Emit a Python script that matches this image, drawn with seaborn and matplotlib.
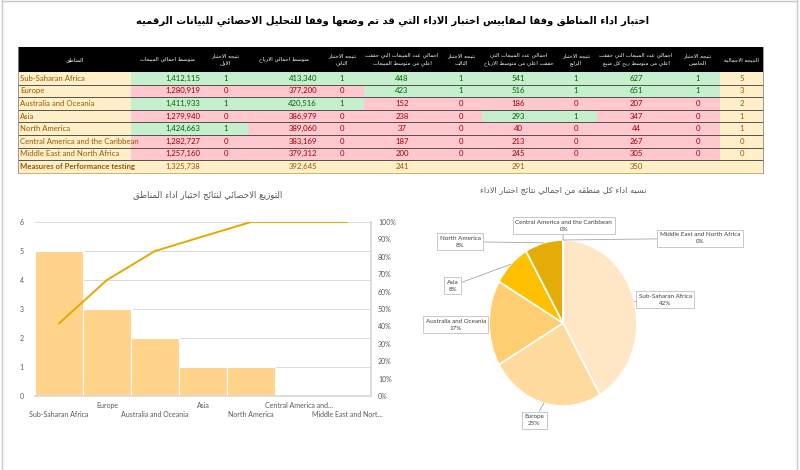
import matplotlib
matplotlib.use('Agg')
import matplotlib.pyplot as plt
import matplotlib.ticker as mticker
import seaborn as sns
import numpy as np
import pandas as pd

# ------------------------
# data
# ------------------------
regions = ['Sub-Saharan Africa', 'Europe', 'Australia and Oceania', 'Asia',
           'North America', 'Central America and the Caribbean',
           'Middle East and North Africa']
avg_sales = [1412115, 1280919, 1411933, 1279940, 1424663, 1282727, 1257160]
test1 = [1, 0, 1, 0, 1, 0, 0]
avg_profit = [413340, 377200, 420516, 386979, 389060, 383169, 379312]
test2 = [1, 0, 1, 0, 0, 0, 0]
above_avg_sales = [448, 423, 152, 238, 37, 187, 200]
test3 = [1, 1, 0, 0, 0, 0, 0]
above_avg_profit = [541, 516, 186, 293, 40, 213, 245]
test4 = [1, 1, 0, 1, 0, 0, 0]
above_unit_profit = [627, 651, 207, 347, 44, 267, 305]
test5 = [1, 1, 0, 0, 0, 0, 0]
overall = [5, 3, 2, 1, 1, 0, 0]
cum_pct = [41.7, 66.7, 83.3, 91.7, 100, 100, 100]

measures_label = 'Measures of Performance testing'
measures = ['1,325,738', '', '392,645', '', '241', '', '291', '', '350', '', '']

headers = ['المناطق', 'متوسط اجمالي المبيعات', 'نتيجه الاختبار\nالاول',
           'متوسط اجمالي الارباح', 'نتيجه الاختبار\nالثاني',
           'اجمالي عدد المبيعات التي حققت\nاعلي من متوسط المبيعات',
           'نتيجه الاختبار\nالثالث',
           'اجمالي عدد المبيعات التي\nحققت اعلي من متوسط الارباح',
           'نتيجه الاختبار\nالرابع',
           'اجمالي عدد المبيعات التي حققت\nاعلي من متوسط ربح كل مبيع',
           'نتيجه الاختبار\nالخامس', 'النتيجه الاجماليه']

main_title = 'اختبار اداء المناطق وفقا لمقاييس اختبار الاداء التي قد تم وضعها وفقا للتحليل الاحصائي للبيانات الرقميه'
pareto_title = 'التوزيع الاحصائي لنتائج اختبار اداء المناطق'
pie_title = 'نسبه اداء كل منطقه من اجمالي نتائج اختبار الاداء'

pie_colors = ['#FFE6C4', '#FFDA9F', '#FFCD72', '#FFC000', '#E3AC06', '#C99700', '#B38600']

# ------------------------
# arabic shaping (matplotlib draws letters unjoined and left to right)
# ------------------------
right_join = set('آأؤإادذرزةوى')
forms = {}
code = 0xFE80
for c in list(range(0x621, 0x63B)) + list(range(0x641, 0x64B)):
    ch = chr(c)
    n = 1 if ch == 'ء' else 2 if ch in right_join else 4
    forms[ch] = [chr(code + k) for k in range(n)]
    code += n
for ch, lig in zip('آأإا', (0xFEF5, 0xFEF7, 0xFEF9, 0xFEFB)):
    forms['ل' + ch] = [chr(lig), chr(lig + 1)]


def shape_line(text):
    units = []
    i = 0
    while i < len(text):
        pair = text[i:i + 2]
        if len(pair) == 2 and pair in forms:
            units.append(pair)
            i += 2
        else:
            units.append(text[i])
            i += 1
    out = []
    for k, u in enumerate(units):
        f = forms.get(u)
        if f is None:
            out.append(u)
            continue
        prev = units[k - 1] if k > 0 else None
        nxt = units[k + 1] if k + 1 < len(units) else None
        jp = len(f) > 1 and prev in forms and len(forms[prev]) == 4
        jn = len(f) == 4 and nxt in forms and len(forms[nxt]) > 1
        idx = 3 if (jp and jn) else 1 if jp else 2 if jn else 0
        out.append(f[idx])
    return ''.join(reversed(out))


def ar(text):
    return '\n'.join(shape_line(t) for t in text.split('\n'))


# ------------------------
# figure
# ------------------------
sns.set_theme(style='white')
plt.rcParams['font.family'] = ['Lato', 'DejaVu Sans']

fig = plt.figure(figsize=(8, 4.7), dpi=100)
fig.patch.set_facecolor('white')

ov = fig.add_axes([0, 0, 1, 1])
ov.set_xlim(0, 800)
ov.set_ylim(470, 0)
ov.axis('off')

# frame of the sheet
for x in (2, 797):
    ov.plot([x, x], [0, 470], color='#C8C8C8', lw=1)
ov.plot([2, 797], [1, 1], color='#C8C8C8', lw=1)

ov.text(393, 21, ar(main_title), ha='center', va='center', fontsize=7.2,
        fontweight='bold', color='black', family='DejaVu Sans')

# ------------------------
# table
# ------------------------
col_edges = [18, 131, 203, 248, 320, 364, 440, 482, 555, 597, 675, 720, 763]
head_top, head_bot, row_h = 47, 72, 12.6
aligns = ['left', 'right', 'center', 'right', 'center', 'center', 'center',
          'center', 'center', 'center', 'center', 'center']
beige, green, pink = '#FFF0C9', '#C6EFCE', '#FFC7CE'
txt_col = {beige: '#9C5700', green: '#006100', pink: '#9C0006'}

ov.add_patch(plt.Rectangle((col_edges[0], head_top), col_edges[-1] - col_edges[0],
                           head_bot - head_top, color='black', lw=0))
for j, h in enumerate(headers):
    cx = (col_edges[j] + col_edges[j + 1]) / 2
    ov.text(cx, (head_top + head_bot) / 2, ar(h), ha='center', va='center',
            fontsize=3.9, color='white', family='DejaVu Sans', linespacing=1.6)

tests = [test1, test2, test3, test4, test5]
values = [avg_sales, avg_profit, above_avg_sales, above_avg_profit, above_unit_profit]


def cell_text(x0, x1, y, s, align, color, bold=False):
    if align == 'left':
        x, ha = x0 + 2, 'left'
    elif align == 'right':
        x, ha = x1 - 3, 'right'
    else:
        x, ha = (x0 + x1) / 2, 'center'
    ov.text(x, y, s, ha=ha, va='center', fontsize=5.6, color=color,
            fontweight='bold' if bold else 'normal')


for i, reg in enumerate(regions + [measures_label]):
    y0 = head_bot + i * row_h
    yc = y0 + row_h / 2
    if i < len(regions):
        cells = [reg]
        fills = [beige]
        for v, t in zip(values, tests):
            cells += [f'{v[i]:,}', str(t[i])]
            fills += [green if t[i] else pink] * 2
        cells.append(str(overall[i]))
        fills.append(beige)
        bold = False
    else:
        cells = [reg] + measures
        fills = [beige] * 12
        bold = True
    for j in range(12):
        x0, x1 = col_edges[j], col_edges[j + 1]
        ov.add_patch(plt.Rectangle((x0, y0), x1 - x0, row_h, color=fills[j], lw=0))
        cell_text(x0, x1, yc, cells[j], aligns[j], txt_col[fills[j]], bold and j == 0)
    ov.plot([col_edges[0], col_edges[-1]], [y0 + row_h, y0 + row_h],
            color='#3A3A3A' if i < len(regions) else '#C9A24A', lw=0.6)

tab_bot = head_bot + (len(regions) + 1) * row_h
for x in (col_edges[0], col_edges[-1]):
    ov.plot([x, x], [head_top, tab_bot], color='#8C8C8C', lw=0.6)

# ------------------------
# pareto chart
# ------------------------
ov.text(208, 195, ar(pareto_title), ha='center', va='center', fontsize=6.2,
        color='#595959', family='DejaVu Sans')

ax = fig.add_axes([35 / 800, 74 / 470, 336 / 800, 174 / 470])
df = pd.DataFrame({'region': regions, 'overall': overall, 'cum': np.array(cum_pct) / 100})
sns.barplot(data=df, x='region', y='overall', color='#FFD38A', saturation=1,
            width=1.0, edgecolor='white', linewidth=0.8, ax=ax)
ax.set_xlim(-0.5, len(regions) - 0.5)
ax.set_ylim(0, 6)
ax.set_yticks(range(7))
ax.set_axisbelow(True)
ax.grid(axis='y', color='#D9D9D9', lw=0.7)
ax.set_xlabel('')
ax.set_ylabel('')
ax.set_xticks(range(len(regions)))
ax.set_xticklabels([])
ax.tick_params(axis='both', length=0, labelsize=5, colors='#595959', pad=8)
for s in ['left', 'top']:
    ax.spines[s].set_visible(False)
for s in ['bottom', 'right']:
    ax.spines[s].set_color('#D9D9D9')

for i, reg in enumerate(regions):
    lab = reg if len(reg) <= 21 else reg[:20].rstrip() + '…'
    off = -13 if i % 2 == 0 else -6.5
    ax.annotate(lab, xy=(i, 0), xycoords=('data', 'axes fraction'),
                xytext=(0, off), textcoords='offset points', ha='center',
                va='center', fontsize=5, color='#595959')

ax2 = ax.twinx()
sns.lineplot(x=df.index, y=df['cum'], color='#E5A800', lw=1.4, ax=ax2)
ax2.set_ylim(0, 1)
ax2.set_yticks(np.arange(0, 1.01, 0.1))
ax2.yaxis.set_major_formatter(mticker.PercentFormatter(1.0, decimals=0))
ax2.tick_params(axis='y', length=0, labelsize=5, colors='#595959', pad=5)
ax2.set_ylabel('')
for s in ax2.spines.values():
    s.set_visible(False)

# ------------------------
# pie chart
# ------------------------
ov.text(563, 190, ar(pie_title), ha='center', va='center', fontsize=5.9,
        color='#595959', family='DejaVu Sans')

pax = fig.add_axes([489 / 800, 64 / 470, 148 / 800, 166 / 470])
wedges, _ = pax.pie(overall, colors=pie_colors, startangle=90, counterclock=False,
                    wedgeprops=dict(edgecolor='white', linewidth=1.2))
pax.set_aspect('auto')
pax.set_xlim(-1, 1)
pax.set_ylim(-1, 1)

label_pos = [(1.38, 0.28), (-0.39, -1.17), (-1.45, -0.02), (-1.49, 0.45),
             (-1.39, 0.98), (0.01, 1.17), (1.85, 1.02)]
total = sum(overall)
for w, reg, v, pos in zip(wedges, regions, overall, label_pos):
    th = np.deg2rad((w.theta1 + w.theta2) / 2)
    pax.annotate(f'{reg}\n{v / total:.0%}', xy=(np.cos(th), np.sin(th)), xytext=pos,
                 ha='center', va='center', fontsize=4.5, color='#404040',
                 linespacing=1.5, annotation_clip=False,
                 bbox=dict(boxstyle='square,pad=0.4', fc='white', ec='#BFBFBF', lw=0.6),
                 arrowprops=dict(arrowstyle='-', color='#A6A6A6', lw=0.6,
                                 shrinkA=0, shrinkB=0))

plt.savefig('out.png', dpi=100)
plt.close()
